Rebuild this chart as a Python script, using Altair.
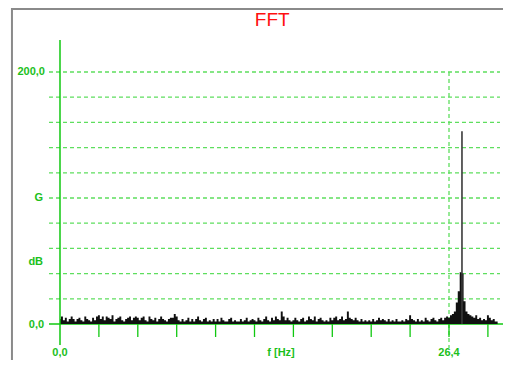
import altair as alt
import pandas as pd

# ---- data ----
bin_step_hz = 0.132
noise_amp = [
    # 0 - 2.64 Hz
    4, 6, 3, 5, 2, 4, 6, 4, 2, 4, 5, 3, 2, 6, 4, 3, 2, 5, 3, 6,
    # 2.64 - 5.28
    7, 4, 6, 3, 6, 5, 4, 7, 2, 4, 5, 6, 3, 2, 4, 5, 6, 3, 5, 6,
    # 5.28 - 7.92
    5, 3, 5, 6, 3, 2, 6, 4, 3, 5, 2, 4, 6, 4, 3, 2, 4, 5, 5, 8,
    # 7.92 - 10.56
    6, 3, 2, 4, 2, 3, 5, 2, 4, 2, 4, 6, 3, 2, 4, 5, 2, 3, 2, 4,
    # 10.56 - 13.2
    2, 4, 2, 5, 3, 2, 2, 4, 5, 2, 3, 2, 2, 4, 2, 3, 5, 2, 3, 4,
    # 13.2 - 15.84
    3, 2, 5, 3, 2, 4, 6, 3, 2, 5, 3, 6, 4, 3, 10, 6, 3, 5, 3, 2,
    # 15.84 - 18.48
    3, 5, 3, 2, 4, 5, 2, 3, 6, 4, 3, 6, 2, 4, 5, 3, 2, 3, 2, 5,
    # 18.48 - 21.12
    3, 5, 6, 3, 4, 6, 3, 4, 10, 5, 4, 3, 5, 3, 2, 4, 2, 3, 2, 3,
    # 21.12 - 23.76
    2, 4, 2, 3, 5, 3, 4, 3, 2, 4, 2, 3, 2, 4, 2, 2, 3, 2, 4, 3,
    # 23.76 - 26.4
    7, 4, 3, 2, 4, 2, 3, 2, 5, 3, 2, 4, 5, 3, 2, 4, 5, 3, 5, 6,
    # 26.4 - 29.04
    5, 7, 8, 10, 17, 26, 41, 40, 18, 10, 8, 7, 6, 5, 7, 4, 5, 3, 4, 3,
    # 29.04 - 29.7
    7, 5, 3, 4, 2, 2,
]
peak_freq = [27.28]
peak_amp = [153]

grid_values = [20, 40, 60, 80, 100, 120, 140, 160, 180, 200]
tick_freqs = [2.64, 5.28, 7.92, 10.56, 13.2, 15.84, 18.48, 21.12, 23.76, 26.4, 29.04]
cursor_freq = [26.4]

left_labels = ["200,0", "G", "dB", "0,0"]
left_label_vals = [200, 100, 49.2, -1.0]
bottom_labels = ["0,0", "f [Hz]", "26,4"]
bottom_label_freqs = [0.0, 15.0, 26.4]

# ---- scales ----
W, H = 495, 352
XDOM = [-3.529, -3.529 + W / 14.735]
YDOM = [250.79 - H / 1.26, 250.79]
xs = alt.Scale(domain=XDOM, nice=False, zero=False)
ys = alt.Scale(domain=YDOM, nice=False, zero=False)

AXIS_GREEN = "#10c810"
GRID_GREEN = "#5ede5e"
TEXT_GREEN = "#1cc01c"

spec_df = pd.DataFrame({
    "f": [round(i * bin_step_hz, 3) for i in range(len(noise_amp))],
    "a": noise_amp,
})
peak_df = pd.DataFrame({"f": peak_freq, "a": peak_amp, "z": [0]})
grid_df = pd.DataFrame({"v": grid_values, "f0": [-0.747] * len(grid_values),
                        "f1": [29.86] * len(grid_values)})
tick_df = pd.DataFrame({"f": tick_freqs, "v0": [0] * len(tick_freqs),
                        "v1": [-10.3] * len(tick_freqs)})
cursor_df = pd.DataFrame({"f": cursor_freq, "v0": [200], "v1": [-19]})
yaxis_df = pd.DataFrame({"f": [0.0], "v0": [225.4], "v1": [-16.7]})
xaxis_df = pd.DataFrame({"v": [0], "f0": [-0.747], "f1": [XDOM[1]]})
left_df = pd.DataFrame({"t": left_labels, "v": left_label_vals,
                        "f": [-1.02, -1.15, -1.15, -1.08]})
bottom_df = pd.DataFrame({"t": bottom_labels, "f": bottom_label_freqs,
                          "v": [-23.0] * 3})
title_df = pd.DataFrame({"t": ["FFT"], "f": [14.4], "v": [241.0]})
frame_v_df = pd.DataFrame({"f": [-3.26], "v0": [YDOM[1]], "v1": [YDOM[0]]})
frame_h_df = pd.DataFrame({"v": [250.0], "f0": [-3.26], "f1": [XDOM[1]]})

grid = alt.Chart(grid_df).mark_rule(color=GRID_GREEN, strokeWidth=1.3,
                                    strokeDash=[4, 3]).encode(
    x=alt.X("f0:Q", scale=xs, axis=None), x2="f1:Q",
    y=alt.Y("v:Q", scale=ys, axis=None))

cursor = alt.Chart(cursor_df).mark_rule(color=GRID_GREEN, strokeWidth=1.3,
                                        strokeDash=[4, 3]).encode(
    x=alt.X("f:Q", scale=xs, axis=None),
    y=alt.Y("v0:Q", scale=ys, axis=None), y2="v1:Q")

ticks = alt.Chart(tick_df).mark_rule(color=AXIS_GREEN, strokeWidth=1.3).encode(
    x=alt.X("f:Q", scale=xs, axis=None),
    y=alt.Y("v0:Q", scale=ys, axis=None), y2="v1:Q")

xaxis = alt.Chart(xaxis_df).mark_rule(color=AXIS_GREEN, strokeWidth=1.5).encode(
    x=alt.X("f0:Q", scale=xs, axis=None), x2="f1:Q",
    y=alt.Y("v:Q", scale=ys, axis=None))

yaxis = alt.Chart(yaxis_df).mark_rule(color=AXIS_GREEN, strokeWidth=1.5).encode(
    x=alt.X("f:Q", scale=xs, axis=None),
    y=alt.Y("v0:Q", scale=ys, axis=None), y2="v1:Q")

spectrum = alt.Chart(spec_df).mark_area(color="#111111", opacity=1,
                                        interpolate="step").encode(
    x=alt.X("f:Q", scale=xs, axis=None),
    y=alt.Y("a:Q", scale=ys, axis=None))

peak = alt.Chart(peak_df).mark_rule(color="#3a3a3a", strokeWidth=1.6).encode(
    x=alt.X("f:Q", scale=xs, axis=None),
    y=alt.Y("a:Q", scale=ys, axis=None), y2="z:Q")

left_text = alt.Chart(left_df).mark_text(
    align="right", baseline="middle", font="Liberation Sans", fontSize=11,
    fontWeight="bold", color=TEXT_GREEN).encode(
    x=alt.X("f:Q", scale=xs, axis=None),
    y=alt.Y("v:Q", scale=ys, axis=None), text="t:N")

bottom_text = alt.Chart(bottom_df).mark_text(
    align="center", baseline="middle", font="Liberation Sans", fontSize=11,
    fontWeight="bold", color=TEXT_GREEN).encode(
    x=alt.X("f:Q", scale=xs, axis=None),
    y=alt.Y("v:Q", scale=ys, axis=None), text="t:N")

title = alt.Chart(title_df).mark_text(
    align="center", baseline="middle", font="Liberation Sans", fontSize=19,
    color="#ff1010").encode(
    x=alt.X("f:Q", scale=xs, axis=None),
    y=alt.Y("v:Q", scale=ys, axis=None), text="t:N")

frame_v = alt.Chart(frame_v_df).mark_rule(color="#8a8a8a", strokeWidth=2).encode(
    x=alt.X("f:Q", scale=xs, axis=None),
    y=alt.Y("v0:Q", scale=ys, axis=None), y2="v1:Q")

frame_h = alt.Chart(frame_h_df).mark_rule(color="#8a8a8a", strokeWidth=2).encode(
    x=alt.X("f0:Q", scale=xs, axis=None), x2="f1:Q",
    y=alt.Y("v:Q", scale=ys, axis=None))

chart = alt.layer(
    grid, cursor, ticks, xaxis, spectrum, peak, yaxis,
    left_text, bottom_text, title, frame_v, frame_h,
).properties(
    width=W, height=H,
    autosize=alt.AutoSizeParams(type="none"),
    padding=0,
    background="white",
).configure_view(strokeWidth=0, stroke="transparent")

chart.save("out.html", embed_options={"renderer": "svg", "actions": False})
